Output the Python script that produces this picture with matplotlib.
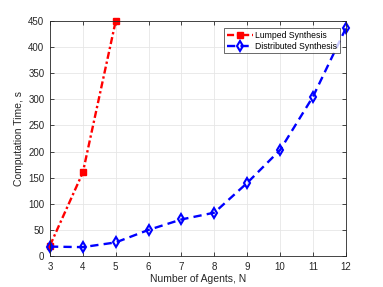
import matplotlib
matplotlib.use("Agg")
import matplotlib.pyplot as plt

plt.rcParams['font.family'] = ['Liberation Sans', 'DejaVu Sans']

agents_lumped = [3, 4, 5]
time_lumped = [20, 160, 450]
agents_dist = [3, 4, 5, 6, 7, 8, 9, 10, 11, 12]
time_dist = [18, 17, 26, 50, 70, 83, 140, 203, 305, 436]

fig = plt.figure(figsize=(3.83, 2.87), dpi=100)
ax = fig.add_axes([0.1305, 0.108, 0.7725, 0.819])

ax.plot(agents_lumped, time_lumped, color='red', lw=1.7, dashes=(3, 1.2, 1, 1.2),
        marker='s', ms=4, mfc='red', mec='red', label='Lumped Synthesis', clip_on=False)
ax.plot(agents_dist, time_dist, color='blue', lw=1.7, dashes=(3.5, 2.2),
        marker='d', ms=5, mfc='none', mec='blue', mew=1.5, label='Distributed Synthesis', clip_on=False)

ax.set_xlim(3, 12)
ax.set_ylim(0, 450)
ax.set_xticks(range(3, 13))
ax.set_yticks(range(0, 451, 50))
ax.grid(True, color='#e6e6e6', lw=0.6)
ax.set_axisbelow(True)
ax.tick_params(direction='in', length=3, width=0.6, labelsize=7, colors='#262626', top=True, right=True,
               labeltop=False, labelright=False, pad=4)
for s in ax.spines.values():
    s.set_color('#262626')
    s.set_linewidth(0.6)
ax.set_xlabel('Number of Agents, N', fontsize=7.5, color='#262626', labelpad=2)
ax.set_ylabel('Computation Time, s', fontsize=7.5, color='#262626', labelpad=3)

leg = ax.legend(loc='upper right', bbox_to_anchor=(0.98, 0.97), fontsize=6.2, frameon=True, fancybox=False,
                edgecolor='#262626', borderpad=0.3, labelspacing=0.25, handlelength=3.0, handletextpad=0.3,
                borderaxespad=0)
leg.get_frame().set_linewidth(0.6)

fig.savefig('out.png', dpi=100)
